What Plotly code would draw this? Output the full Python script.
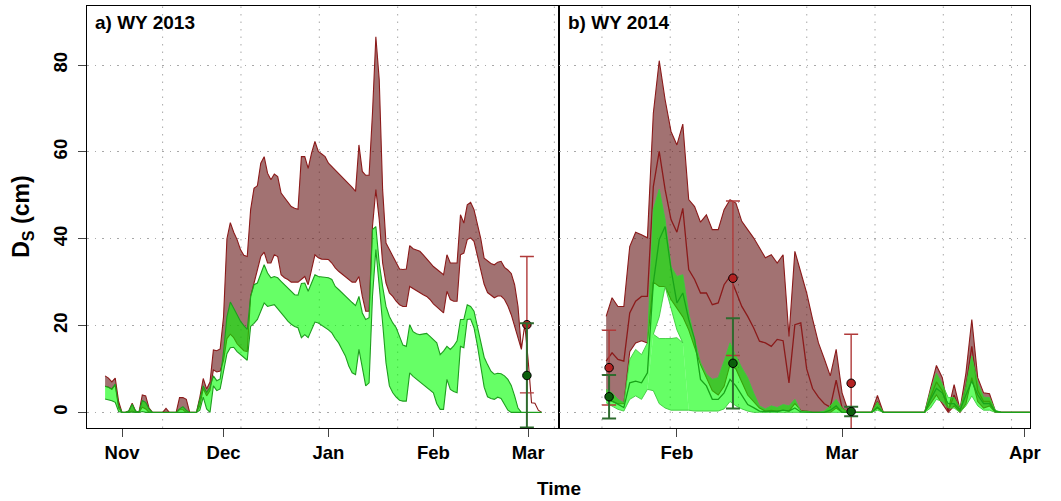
import pandas as pd
import plotly.graph_objects as go

FONT = "Liberation Sans"

# ---------------- WY 2013 envelopes (daily, from 2012-10-27) ----------------
wy13_start = "2012-10-27"
wy13_brown_hi = [
    8.4, 7.9, 7.0, 7.9, 2.5,
    0, 0, 0.3, 2.1, 0.3, 0, 4.0, 3.8, 1.0, 0,
    0, 0, 0, 0.9, 0, 0, 0, 3.4, 3.4, 3.0,
    0, 0, 0, 3.5, 7.8, 5.4, 7.0, 14.4, 14.2, 14.6,
    22.0, 40.0, 43.7, 41.5, 39.8, 37.5, 36.2, 35.9, 46.7, 51.6,
    52.2, 57.4, 58.9, 55.1, 53.6, 54.9, 54.3, 50.5, 49.5, 48.5,
    47.4, 47.0, 46.8, 58.9, 58.9, 56.2, 59.7, 62.4, 60.1, 59.5,
    58.9, 57.4, 56.6, 55.9, 55.2, 54.3, 53.5, 52.8, 51.8, 50.9,
    61.6, 55.5, 54.6, 54.6, 68.9, 86.5, 76.6, 51.3, 39.0, 37.5,
    36.0, 34.4, 33.0, 32.9, 33.0, 38.4, 37.7, 37.4, 37.1, 36.3,
    35.5, 34.5, 33.6, 32.9, 32.3, 31.7, 36.3, 34.4, 34.4, 34.4,
    45.5, 43.6, 47.8, 48.4, 46.7, 43.5, 40.0, 35.5, 34.8, 34.3,
    34.0, 34.6, 34.8, 33.4, 32.8, 32.0, 29.4, 24.4, 14.5, 20.2,
    12.0, 2.2, 2.1, 0.5, 0,
]
wy13_brown_lo = [
    6.0, 5.8, 5.3, 6.3, 1.0,
    0, 0, 0, 0.3, 0, 0, 1.2, 0.8, 0, 0,
    0, 0, 0, 0, 0, 0, 0, 0.6, 0.6, 0,
    0, 0, 0, 1.5, 5.5, 3.8, 5.0, 9.8, 9.3, 9.5,
    12.0, 17.0, 18.0, 17.2, 15.8, 15.0, 14.2, 14.0, 26.7, 29.4,
    32.9, 35.9, 36.9, 34.4, 34.4, 36.3, 35.9, 31.7, 31.0, 30.6,
    30.0, 30.0, 30.0, 30.6, 31.3, 29.4, 32.9, 36.3, 35.6, 35.3,
    35.3, 35.2, 34.4, 33.3, 32.5, 31.7, 31.2, 30.6, 30.0, 30.0,
    31.3, 26.7, 23.3, 23.3, 42.8, 51.3, 44.4, 34.4, 29.8, 27.5,
    26.7, 25.6, 24.8, 24.4, 24.4, 29.0, 28.5, 28.0, 27.6, 27.1,
    26.7, 26.0, 25.0, 24.4, 23.6, 22.9, 27.9, 26.0, 25.6, 25.6,
    36.3, 36.7, 39.8, 40.2, 39.4, 36.0, 33.0, 29.5, 27.6, 27.0,
    26.4, 26.8, 26.8, 26.0, 24.5, 22.5, 19.8, 17.2, 14.5, 20.2,
    12.0, 2.2, 2.1, 0.5, 0,
]
wy13_green_hi = [
    6.0, 5.8, 5.4, 6.5, 1.5,
    0, 0, 0.3, 1.9, 0.3, 0, 2.7, 2.3, 0.8, 0,
    0, 0, 0, 0, 0, 0, 0, 0.8, 1.3, 0.5,
    0, 0, 0, 3.0, 6.1, 4.6, 5.8, 8.4, 7.3, 7.7,
    14.0, 22.0, 25.4, 24.0, 22.5, 21.0, 20.0, 19.1, 26.7, 29.4,
    29.8, 32.0, 34.0, 32.1, 31.0, 31.3, 31.0, 30.2, 29.4, 28.7,
    27.9, 27.1, 27.0, 29.7, 29.8, 27.9, 29.8, 31.7, 31.3, 31.2,
    31.2, 31.0, 30.6, 29.0, 28.3, 27.5, 26.8, 26.0, 25.3, 24.6,
    26.7, 22.9, 21.4, 21.8, 42.1, 42.8, 34.4, 29.0, 24.4, 22.1,
    20.6, 19.5, 17.5, 15.5, 15.2, 20.2, 18.6, 18.1, 17.9, 18.0,
    18.2, 17.5, 16.8, 16.0, 13.3, 14.1, 15.2, 14.5, 15.3, 16.5,
    21.4, 21.4, 24.8, 24.4, 23.3, 19.9, 16.0, 12.7, 11.0, 9.5,
    8.8, 9.0, 8.9, 8.4, 7.6, 6.2, 3.8, 1.0, 0, 0,
    0, 0, 0, 0, 0,
]
wy13_green_lo = [
    3.1, 2.9, 2.7, 2.3, 0.2,
    0, 0, 0, 0.1, 0, 0, 0.2, 0, 0, 0,
    0, 0, 0, 0, 0, 0, 0, 0, 0, 0,
    0, 0, 0, 0.5, 3.5, 0.8, 0, 6.1, 5.0, 5.4,
    9.0, 13.5, 14.9, 15.0, 14.0, 13.3, 12.6, 12.0, 19.8, 20.5,
    21.4, 23.5, 25.2, 24.4, 24.6, 24.8, 24.0, 22.9, 22.0, 21.0,
    20.3, 19.8, 19.5, 17.2, 17.9, 17.2, 19.1, 20.8, 20.6, 20.0,
    19.5, 19.0, 18.3, 17.0, 16.0, 14.5, 13.0, 10.7, 9.1, 8.7,
    14.5, 9.9, 6.1, 6.8, 26.7, 37.5, 29.8, 20.6, 11.4, 6.1,
    4.5, 3.5, 2.8, 2.6, 2.6, 9.1, 8.3, 7.5, 7.0, 6.5,
    5.8, 5.1, 4.5, 2.0, 0.7, 0.7, 7.6, 5.3, 4.8, 4.5,
    15.2, 14.9, 21.4, 21.5, 19.5, 15.4, 11.0, 5.8, 3.6, 3.2,
    3.0, 3.5, 3.2, 1.9, 0.5, 0, 0, 0, 0, 0,
    0, 0, 0, 0, 0,
]

# ---------------- WY 2014 envelopes and medians (daily, from 2014-01-20) ----------------
wy14_start = "2014-01-20"
wy14_brown_hi = [
    22.1, 26.4, 24.4, 24.4, 38.2, 41.5, 40.9, 40.2, 68.9, 81.0,
    72.0, 64.7, 61.6, 66.4, 49.0, 47.4, 43.8, 45.5, 42.1, 42.1,
    46.7, 49.0, 48.2, 44.0, 42.1, 40.2, 37.9, 35.6, 36.3, 34.4,
    36.3, 17.5, 37.1, 32.1, 27.5, 21.5, 16.0, 12.3, 8.4, 14.5,
    4.5, 0.5, 0, 0, 0, 0, 3.9, 0, 0, 0,
    0, 0, 0, 0, 0, 5.5, 10.8, 8.0, 0.5, 6.4,
    0.7, 9.0, 21.4, 8.0, 4.5, 4.3, 0.3, 0, 0, 0,
    0, 0, 0,
]
wy14_brown_med = [
    11.8, 13.7, 12.2, 11.8, 22.9, 25.6, 26.7, 26.7, 52.0, 60.1,
    51.3, 44.4, 41.5, 47.0, 32.9, 30.6, 27.5, 27.5, 24.8, 25.2,
    29.4, 31.3, 27.9, 24.4, 22.1, 19.5, 16.4, 16.0, 15.2, 16.8,
    16.5, 6.8, 20.2, 20.6, 10.0, 5.5, 3.5, 2.0, 1.2, 7.4,
    1.0, 0, 0, 0, 0, 0, 2.5, 0, 0, 0,
    0, 0, 0, 0, 0, 3.5, 7.0, 5.0, 0.3, 4.0,
    0.4, 6.0, 15.2, 5.0, 2.5, 2.5, 0.2, 0, 0, 0,
    0, 0, 0,
]
wy14_brown_lo = [
    3.0, 2.5, 2.0, 2.0, 14.0, 16.0, 16.5, 16.0, 30.0, 29.0,
    29.0, 26.0, 24.0, 22.0, 19.0, 15.0, 11.0, 8.0, 5.0, 4.0,
    6.0, 11.0, 10.0, 7.0, 4.0, 2.5, 1.0, 0.3, 0.5, 0.3,
    0.5, 0.3, 2.0, 0.5, 0.3, 0, 0, 0, 0, 1.0,
    0, 0, 0, 0, 0, 0, 1.0, 0, 0, 0,
    0, 0, 0, 0, 0, 2.0, 4.0, 2.0, 0, 1.5,
    0, 2.0, 8.0, 2.5, 1.0, 1.5, 0, 0, 0, 0,
    0, 0, 0,
]
wy14_green_hi = [
    5.3, 4.5, 3.0, 2.2, 12.2, 14.5, 13.3, 16.0, 46.7, 51.4,
    44.4, 33.6, 31.3, 31.7, 22.9, 16.8, 11.5, 8.8, 7.6, 8.0,
    11.8, 16.0, 13.0, 10.3, 8.0, 4.5, 1.5, 0.8, 1.5, 1.1,
    1.8, 1.5, 3.0, 0.3, 0.3, 0, 0, 0.3, 1.5, 3.0,
    1.0, 0, 0, 0, 0, 0, 2.4, 0, 0, 0,
    0, 0, 0, 0, 0, 5.0, 9.0, 6.5, 3.4, 3.4,
    1.0, 6.0, 13.0, 6.8, 3.5, 3.4, 0.5, 0, 0, 0,
    0, 0, 0,
]
wy14_green_med = [
    3.4, 2.6, 1.8, 1.1, 6.8, 7.2, 6.8, 9.1, 29.8, 39.8,
    42.8, 33.0, 25.2, 27.5, 21.4, 16.8, 7.6, 6.1, 3.0, 3.0,
    4.5, 7.6, 6.1, 3.8, 1.8, 1.1, 0.3, 0.2, 0.3, 0.2,
    0.5, 0.3, 1.0, 0.1, 0, 0, 0, 0, 0.5, 1.5,
    0, 0, 0, 0, 0, 0, 1.2, 0, 0, 0,
    0, 0, 0, 0, 0, 3.0, 5.5, 4.5, 2.0, 2.0,
    0.5, 4.0, 7.2, 4.0, 2.0, 2.0, 0.2, 0, 0, 0,
    0, 0, 0,
]
wy14_green_lo = [
    2.2, 1.5, 0.7, 0.3, 3.0, 3.8, 3.0, 5.3, 5.0, 2.0,
    1.0, 0.5, 0.5, 0.5, 0.5, 0.3, 0.3, 0.3, 0.3, 0.3,
    0.8, 2.5, 1.5, 0.8, 0.3, 0, 0, 0, 0, 0,
    0, 0, 0, 0, 0, 0, 0, 0, 0, 0,
    0, 0, 0, 0, 0, 0, 0.5, 0, 0, 0,
    0, 0, 0, 0, 0, 1.0, 3.0, 2.5, 1.0, 1.0,
    0, 1.5, 3.8, 1.5, 0.5, 0.5, 0, 0, 0, 0,
    0, 0, 0,
]
# empty pocket inside the green envelope under the early-February peak (from 2014-01-27)
wy14_gap_start = "2014-01-27"
wy14_gap_bottom = [5.3, 18.0, 17.0, 17.0, 17.0, 17.2, 16.0, 0.5]
wy14_gap_top = [5.3, 18.0, 22.0, 29.0, 24.0, 19.0, 16.0, 0.5]

# ---------------- snow course observations (value, +/- error) ----------------
wy13_obs_dates = ["2013-02-28 15:00"]
wy13_obs_brown = [20.2]
wy13_obs_brown_err = [15.7]
wy13_obs_green = [8.5]
wy13_obs_green_err = [12.0]

wy14_obs_dates = ["2014-01-20 12:00", "2014-02-10 12:00", "2014-03-02 13:00"]
wy14_obs_brown = [10.3, 30.9, 6.7]
wy14_obs_brown_err = [8.6, 17.8, 11.3]
wy14_obs_green = [3.6, 11.3, 0.2]
wy14_obs_green_err = [5.0, 10.4, 1.1]

# ---------------- axis ticks ----------------
wy13_ticks = ["2012-11-01", "2012-12-01", "2013-01-01", "2013-02-01", "2013-03-01"]
wy13_ticktext = ["Nov", "Dec", "Jan", "Feb", "Mar"]
wy14_ticks = ["2014-02-01", "2014-03-01", "2014-04-01"]
wy14_ticktext = ["Feb", "Mar", "Apr"]
y_ticks = [0, 20, 40, 60, 80]

# ---------------- styling ----------------
BROWN_FILL = "rgba(100,20,20,0.6)"
BROWN_LINE = "#8B1A1A"
GREEN_FILL = "rgba(0,255,0,0.6)"
GREEN_LINE = "#1E9E1E"
GREEN_LINE_B = "#3CCB3C"
GRID = "#A8A8A8"
GRID_DASH = "1.5px,6px"

fig = go.Figure()


def band(dates, hi, lo, fill, line, xa, ya, width=1.1):
    xs = list(dates) + list(dates[::-1])
    ys = list(hi) + list(lo[::-1])
    fig.add_trace(go.Scatter(x=xs, y=ys, mode="lines", fill="toself",
                             fillcolor=fill,
                             line=dict(color=line, width=width),
                             xaxis=xa, yaxis=ya, hoverinfo="skip"))


def line(dates, vals, color, xa, ya, width=1.3):
    fig.add_trace(go.Scatter(x=list(dates), y=list(vals), mode="lines",
                             line=dict(color=color, width=width),
                             xaxis=xa, yaxis=ya, hoverinfo="skip"))


def obs(dates, vals, errs, bar_color, face, thick, xa, ya):
    fig.add_trace(go.Scatter(
        x=dates, y=vals, mode="markers",
        marker=dict(size=8.5, color=face, line=dict(color="black", width=1)),
        error_y=dict(type="data", array=errs, visible=True, color=bar_color,
                     thickness=thick, width=7),
        xaxis=xa, yaxis=ya, hoverinfo="skip"))


d13 = pd.date_range(wy13_start, periods=len(wy13_brown_hi), freq="D")
d14 = pd.date_range(wy14_start, periods=len(wy14_brown_hi), freq="D")
dgap = pd.date_range(wy14_gap_start, periods=len(wy14_gap_top), freq="D")

# panel a
band(d13, wy13_brown_hi, wy13_brown_lo, BROWN_FILL, BROWN_LINE, "x", "y")
band(d13, wy13_green_hi, wy13_green_lo, GREEN_FILL, GREEN_LINE, "x", "y")
obs(wy13_obs_dates, wy13_obs_brown, wy13_obs_brown_err, "#B03A3A", "#B22222", 1.4, "x", "y")
obs(wy13_obs_dates, wy13_obs_green, wy13_obs_green_err, "#2E6B2E", "#0B5E0B", 2.0, "x", "y")

# panel b: brown envelope + median
band(d14, wy14_brown_hi, wy14_brown_lo, BROWN_FILL, BROWN_LINE, "x2", "y2")
line(d14, wy14_brown_med, BROWN_LINE, "x2", "y2")

# panel b: green envelope split around the pocket under the peak
i0 = list(d14).index(dgap[0])
upper_lo = list(wy14_green_lo)
upper_lo[i0:i0 + len(wy14_gap_top)] = wy14_gap_top
lower_lo = wy14_green_lo[i0:i0 + len(wy14_gap_top)]
band(d14, wy14_green_hi, upper_lo, GREEN_FILL, GREEN_LINE_B, "x2", "y2", width=0)
band(dgap, wy14_gap_bottom, lower_lo, GREEN_FILL, GREEN_LINE_B, "x2", "y2", width=0)
line(d14, wy14_green_hi, GREEN_LINE_B, "x2", "y2", width=0.9)
line(d14, wy14_green_lo, GREEN_LINE_B, "x2", "y2", width=0.9)
line(dgap[1:-1], wy14_gap_top[1:-1], GREEN_LINE_B, "x2", "y2", width=0.9)
line(dgap[1:-1], wy14_gap_bottom[1:-1], GREEN_LINE_B, "x2", "y2", width=0.9)
line(d14, wy14_green_med, "#19A319", "x2", "y2")

obs(wy14_obs_dates, wy14_obs_brown, wy14_obs_brown_err, "#B03A3A", "#B22222", 1.4, "x2", "y2")
obs(wy14_obs_dates, wy14_obs_green, wy14_obs_green_err, "#2E6B2E", "#0B5E0B", 2.0, "x2", "y2")

W, H = 1061, 501
left0, mid, right1 = 88.3 / W, 565 / W, 1040.7 / W
ybot, ytop = (H - 428) / H, (H - 6) / H

# dotted vertical guides
grid13 = pd.date_range("2012-11-13", periods=6, freq=pd.Timedelta(seconds=2_000_000))
grid14 = pd.date_range("2014-01-19 07:00", periods=7, freq=pd.Timedelta(seconds=1_000_000))
for xa, gl in (("x", grid13), ("x2", grid14)):
    for g in gl:
        fig.add_shape(type="line", xref=xa, yref="paper", x0=g, x1=g,
                      y0=ybot, y1=ytop, layer="below",
                      line=dict(color=GRID, width=1, dash=GRID_DASH))

tickfont = dict(family=FONT, size=18.5, color="black", weight="bold")
common_x = dict(type="date", showgrid=False, zeroline=False, showline=True,
                mirror=True, linecolor="black", linewidth=1.3, ticks="outside",
                ticklen=8, tickwidth=1.2, tickcolor="#444", tickfont=tickfont)
common_y = dict(range=[-3.6, 93.6], tickvals=y_ticks, showgrid=True,
                gridcolor=GRID, griddash=GRID_DASH, gridwidth=1, zeroline=False,
                showline=True, mirror=True, linecolor="black", linewidth=1.3,
                domain=[ybot, ytop])

fig.update_layout(
    width=W, height=H, margin=dict(l=0, r=0, t=0, b=0),
    paper_bgcolor="white", plot_bgcolor="white", showlegend=False,
    xaxis=dict(common_x, domain=[left0, mid], anchor="y",
               range=["2012-10-21 18:30", "2013-03-10 03:40"],
               tickvals=wy13_ticks, ticktext=wy13_ticktext),
    xaxis2=dict(common_x, domain=[mid, right1], anchor="y2",
                range=["2014-01-12 00:45", "2014-04-01 20:25"],
                tickvals=wy14_ticks, ticktext=wy14_ticktext),
    yaxis=dict(common_y, anchor="x", ticks="outside", ticklen=8, tickwidth=1.2,
               tickcolor="#444", tickangle=-90, tickfont=tickfont,
               ticklabelstandoff=4),
    yaxis2=dict(common_y, anchor="x2", matches="y", showticklabels=False, ticks=""),
)

ann_font = dict(family=FONT, size=19, color="black", weight="bold")
fig.add_annotation(text="a) WY 2013", xref="paper", yref="paper", x=94 / W,
                   y=(H - 22) / H, xanchor="left", yanchor="middle",
                   showarrow=False, font=ann_font)
fig.add_annotation(text="b) WY 2014", xref="paper", yref="paper", x=572 / W,
                   y=(H - 22) / H, xanchor="left", yanchor="middle",
                   showarrow=False, font=ann_font)
fig.add_annotation(text="Time", xref="paper", yref="paper", x=564.5 / W,
                   y=(H - 488) / H, xanchor="center", yanchor="middle",
                   showarrow=False, font=ann_font)
fig.add_annotation(text="D<sub>S</sub> (cm)", xref="paper", yref="paper",
                   x=22 / W, y=(H - 217) / H, xanchor="center", yanchor="middle",
                   textangle=-90, showarrow=False,
                   font=dict(family=FONT, size=23, color="black", weight="bold"))

fig.write_html("out.html")
